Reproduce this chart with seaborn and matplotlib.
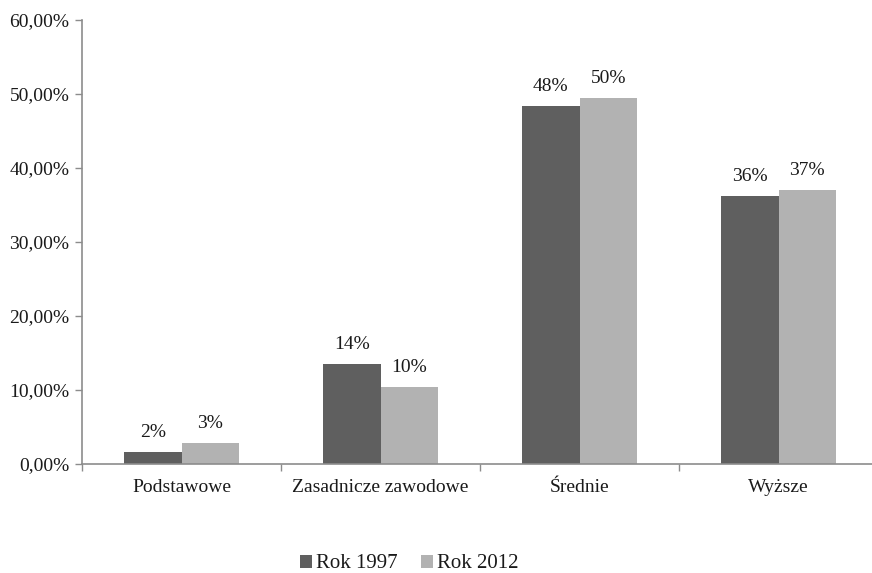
import matplotlib
matplotlib.use("Agg")
import matplotlib.pyplot as plt
import seaborn as sns
import pandas as pd
from matplotlib.ticker import FuncFormatter, FixedLocator

categories = ["Podstawowe", "Zasadnicze zawodowe", "Średnie", "Wyższe"]
series_names = ["Rok 1997", "Rok 2012"]
values_1997 = [1.6, 13.5, 48.4, 36.2]
values_2012 = [2.8, 10.4, 49.5, 37.0]
labels_1997 = ["2%", "14%", "48%", "36%"]
labels_2012 = ["3%", "10%", "50%", "37%"]
y_ticks = [0, 10, 20, 30, 40, 50, 60]

df = pd.DataFrame({
    "kat": categories * 2,
    "val": values_1997 + values_2012,
    "rok": [series_names[0]] * 4 + [series_names[1]] * 4,
    "lab": labels_1997 + labels_2012,
})

sns.set_theme(style="white")
plt.rcParams["font.family"] = ["Liberation Serif", "DejaVu Serif"]

fig = plt.figure(figsize=(8.72, 5.73), dpi=100)
ax = fig.add_axes([82 / 872, 1 - 464 / 573, (878 - 82) / 872, 444 / 573])

colors = ["#5f5f5f", "#b2b2b2"]
sns.barplot(data=df, x="kat", y="val", hue="rok", palette=colors, width=0.578,
            saturation=1, ax=ax, legend=True, linewidth=0)

FS = 14
for cont, labs in zip(ax.containers, [labels_1997, labels_2012]):
    ax.bar_label(cont, labels=labs, padding=8, fontsize=FS, color="#1a1a1a")

ax.set_ylim(0, 60)
ax.set_xlim(-0.5, 3.5)
ax.set_yticks(y_ticks)
ax.yaxis.set_major_formatter(FuncFormatter(lambda v, p: f"{v:.2f}".replace(".", ",") + "%"))
ax.set_xlabel("")
ax.set_ylabel("")
ax.tick_params(axis="y", labelsize=FS, length=5, width=1, color="#8c8c8c",
               left=True, direction="out", pad=4, labelcolor="#1a1a1a")
ax.tick_params(axis="x", labelsize=FS, length=0, pad=11, labelcolor="#1a1a1a")
ax.xaxis.set_minor_locator(FixedLocator([-0.5, 0.5, 1.5, 2.5, 3.5]))
ax.tick_params(axis="x", which="minor", bottom=True, length=5, width=1,
               color="#8c8c8c", direction="out")

for s in ["top", "right"]:
    ax.spines[s].set_visible(False)
for s in ["left", "bottom"]:
    ax.spines[s].set_color("#8c8c8c")
    ax.spines[s].set_linewidth(1.2)

leg = ax.legend(loc="center", bbox_to_anchor=((409 - 82) / 796, (464 - 564) / 444),
                ncol=2, frameon=False, fontsize=15, handlelength=0.58, handleheight=0.58,
                handletextpad=0.2, columnspacing=1.1, labelcolor="#1a1a1a",
                borderpad=0, borderaxespad=0)

fig.savefig("out.png", dpi=100)
